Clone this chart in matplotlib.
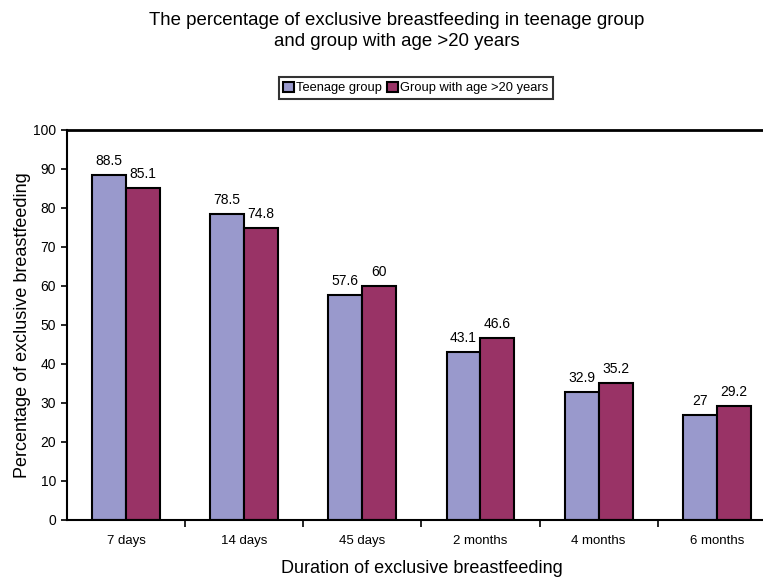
import matplotlib
matplotlib.use("Agg")
import matplotlib.pyplot as plt
import numpy as np

plt.rcParams['font.family'] = ['Liberation Sans', 'DejaVu Sans']

durations = ["7 days", "14 days", "45 days", "2 months", "4 months", "6 months"]
teenage = [88.5, 78.5, 57.6, 43.1, 32.9, 27]
adult = [85.1, 74.8, 60, 46.6, 35.2, 29.2]

teen_color = "#9999CC"
adult_color = "#993366"

fig = plt.figure(figsize=(7.63, 5.79), dpi=100)
ax = fig.add_axes([0.0878, 0.1019, 0.929, 0.6736])

x = np.arange(len(durations))
w = 0.287
b1 = ax.bar(x - w / 2, teenage, w, color=teen_color, edgecolor="black", linewidth=1.5,
            label="Teenage group")
b2 = ax.bar(x + w / 2, adult, w, color=adult_color, edgecolor="black", linewidth=1.5,
            label="Group with age >20 years")

for bars, vals in ((b1, teenage), (b2, adult)):
    for r, v in zip(bars, vals):
        ax.annotate(f"{v:g}", (r.get_x() + r.get_width() / 2, v), xytext=(0, 5),
                    textcoords="offset points", ha="center", va="bottom", fontsize=10)

ax.set_xlim(-0.5, len(durations) - 0.5)
ax.set_ylim(0, 100)
ax.set_yticks(range(0, 101, 10))
ax.set_xticks(x)
ax.set_xticklabels(durations, fontsize=9.5)
ax.tick_params(axis="x", which="major", length=0, pad=11)
ax.set_xticks(np.arange(0.5, len(durations) - 0.5, 1), minor=True)
ax.tick_params(axis="x", which="minor", length=5, width=1.2, direction="out")
ax.tick_params(axis="y", length=4, width=1.2, direction="out", pad=4, labelsize=10)

ax.spines["right"].set_visible(False)
for s in ("left", "bottom", "top"):
    ax.spines[s].set_linewidth(1.5)
ax.spines["top"].set_linewidth(2)

ax.set_ylabel("Percentage of exclusive breastfeeding", fontsize=13, labelpad=1)
ax.set_xlabel("Duration of exclusive breastfeeding", fontsize=13, labelpad=9)

fig.text(0.52, 0.98, "The percentage of exclusive breastfeeding in teenage group\nand group with age >20 years",
         ha="center", va="top", fontsize=13.4, linespacing=1.35)

leg = fig.legend(loc="center", bbox_to_anchor=(0.545, 0.848), ncol=2, fontsize=9.3,
                 frameon=True, fancybox=False, edgecolor="black", handlelength=0.8,
                 handleheight=0.8, handletextpad=0.2, columnspacing=0.4,
                 borderpad=0.35, borderaxespad=0)
leg.get_frame().set_linewidth(1.5)

fig.savefig("out.png", dpi=100)
